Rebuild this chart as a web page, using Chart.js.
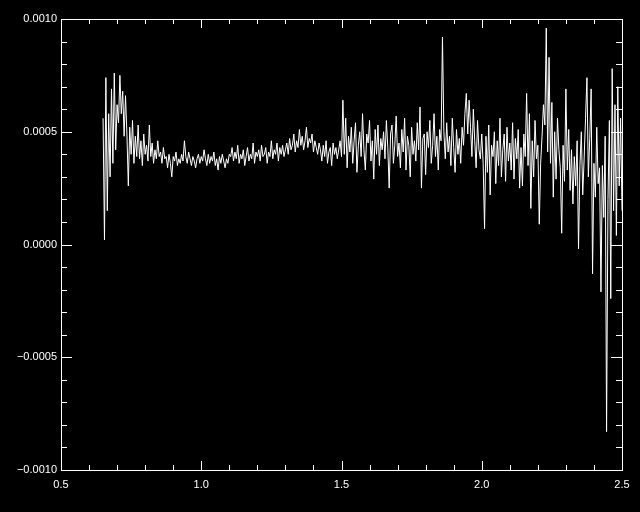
<!DOCTYPE html>
<html>
<head>
<meta charset="utf-8">
<script src="https://cdn.jsdelivr.net/npm/chart.js@4.4.0/dist/chart.umd.min.js"></script>
<style>
    html, body { margin: 0; padding: 0; background: #000; }
    canvas { display: block; }
</style>
</head>
<body>
<canvas id="plot" width="640" height="512"></canvas>
<script>
// Sampling grid of the spectrum (microns)
const waveStart = 0.65;
const waveStep = 0.005;

// Values, in units of 1e-4, one per grid step
const flux = [
    // 0.650 - 0.730
    5.6, 0.2, 7.4, 1.5, 5.8, 3.0, 6.9, 3.6, 7.6, 4.2, 6.2, 5.4, 7.5, 5.8, 6.8, 4.8, 6.6,
    // 0.735 - 0.800
    4.9, 2.6, 5.2, 4.0, 5.5, 3.6, 4.8, 3.9, 5.3, 3.8, 4.6, 3.5, 4.9, 4.0,
    // 0.805 - 0.850
    4.4, 3.7, 5.3, 3.9, 4.5, 3.6, 4.2, 3.8, 4.6, 3.9,
    // 0.855 - 1.100
    4.1, 3.6, 4.3, 3.8, 3.9, 3.4, 4.0, 3.6, 3.0, 3.9,
    3.7, 4.1, 3.5, 3.8, 3.6, 4.0, 3.7, 4.6, 3.9, 3.6,
    4.1, 3.8, 3.5, 3.9, 3.7, 3.4, 3.8, 4.0, 3.6, 3.9,
    3.7, 4.2, 3.8, 3.5, 4.0, 3.6, 3.9, 3.7, 4.1, 3.5,
    3.8, 3.3, 3.9, 3.6, 4.0, 3.7, 3.4, 3.8, 3.6, 4.0,
    // 1.105 - 1.300
    3.9, 4.3, 3.7, 4.1, 3.8, 4.4, 3.6, 4.0, 3.8, 4.2,
    3.5, 3.9, 4.3, 3.7, 4.0, 3.8, 4.5, 3.6, 4.1, 3.9,
    4.2, 3.7, 4.4, 3.9, 4.0, 4.3, 3.6, 4.1, 3.9, 4.6,
    3.8, 4.2, 4.0, 4.5, 3.7, 4.3, 4.0, 4.4, 3.9, 4.2,
    // 1.305 - 1.420
    4.5, 4.0, 4.7, 4.2, 4.4, 4.9, 4.1, 4.6, 4.3, 5.1,
    4.4, 4.8, 4.2, 4.6, 5.2, 4.3, 4.7, 4.5, 4.9, 4.1,
    4.6, 4.3, 4.0, 4.5,
    // 1.425 - 1.500
    4.2, 3.7, 4.4, 3.9, 4.6, 3.6, 4.1, 4.3, 3.5, 4.5, 4.0, 4.3, 3.8, 4.2, 4.6, 3.9,
    // 1.505 - 1.850
    6.4, 4.0, 5.6, 3.4, 4.8, 4.1, 5.2, 3.6, 4.6, 5.4,
    3.2, 4.4, 5.0, 3.9, 5.8, 4.2, 3.3, 4.9, 4.5, 5.5,
    3.7, 4.6, 2.9, 5.1, 4.0, 5.3, 3.5, 4.7, 4.2, 5.0,
    3.8, 5.5, 4.3, 2.5, 4.9, 5.3, 3.6, 4.4, 5.7, 3.9,
    4.5, 3.4, 5.1, 4.1, 5.6, 3.3, 4.8, 4.4, 3.0, 5.2,
    4.0, 4.6, 3.7, 5.4, 4.2, 6.1, 2.5, 4.7, 4.9, 3.1,
    5.0, 4.3, 5.5, 3.6, 4.4, 5.8, 3.9, 4.8, 3.3, 5.1,
    // 1.855 - 2.000
    4.6, 9.2, 5.0, 3.8, 5.4, 4.1, 4.8, 3.5, 5.6, 4.3,
    3.2, 5.1, 4.0, 4.7, 3.6, 5.2, 4.4, 5.8, 6.7, 4.9,
    6.4, 5.2, 3.9, 6.0, 4.6, 3.4, 5.5, 4.2, 3.8, 4.9,
    // 2.005 - 2.210
    3.6, 0.7, 4.8, 3.2, 5.3, 2.2, 4.4, 3.9, 5.0, 2.7,
    4.6, 3.5, 5.6, 3.0, 4.2, 4.9, 2.8, 5.2, 3.7, 4.5,
    3.3, 5.4, 2.9, 4.7, 3.8, 5.1, 2.5, 4.3, 2.6, 4.9,
    3.9, 6.7, 3.5, 5.8, 1.6, 4.6, 3.0, 5.5, 3.8, 4.4,
    0.9, 3.6,
    // 2.215 - 2.280
    4.8, 6.2, 5.3, 9.6, 4.1, 8.3, 3.6, 6.3, 2.1, 5.0, 2.9, 5.6, 4.2, 3.4,
    // 2.285 - 2.420
    0.5, 4.4, 2.8, 6.9, 3.3, 5.1, 2.4, 4.2, 1.8, 3.9, 2.6, 4.6, -0.2, 3.5, 5.0, 2.2,
    3.8, 5.6, 7.4, 3.0, 4.7, 6.9, -1.3, 3.6, 2.1, 5.2, 2.7, 3.4,
    // 2.425 - 2.500
    -2.1, 3.5, 1.2, 4.8, -8.3, 2.0, 5.5, -2.4, 7.8, 1.5, 6.2, 0.4, 7.0, 2.6, 5.6, 1.5
];

// Axis ranges and tick labels
const xRange = [0.5, 2.5];
const yRange = [-0.0010, 0.0010];
const xMajor = [0.5, 1.0, 1.5, 2.0, 2.5];
const yMajor = [-0.0010, -0.0005, 0.0, 0.0005, 0.0010];
const xMinorStep = 0.1;
const yMinorStep = 0.0001;

const points = flux.map((v, i) => ({
    x: +(waveStart + i * waveStep).toFixed(3),
    y: v * 1e-4
}));

// Black page + IDL style box with inward ticks on all four sides
const idlFrame = {
    id: 'idlFrame',
    beforeDraw(chart) {
        const ctx = chart.ctx;
        ctx.save();
        ctx.fillStyle = '#000';
        ctx.fillRect(0, 0, chart.width, chart.height);
        ctx.restore();
    },
    afterDraw(chart) {
        const { ctx, chartArea: a, scales } = chart;
        const xs = scales.x, ys = scales.y;
        ctx.save();
        ctx.strokeStyle = '#fff';
        ctx.lineWidth = 1;
        ctx.strokeRect(Math.round(a.left) + 0.5, Math.round(a.top) + 0.5,
            Math.round(a.right - a.left), Math.round(a.bottom - a.top));

        ctx.beginPath();
        // x ticks
        const nx = Math.round((xRange[1] - xRange[0]) / xMinorStep);
        for (let i = 0; i <= nx; i++) {
            const v = xRange[0] + i * xMinorStep;
            const major = xMajor.some(m => Math.abs(m - v) < 1e-9);
            const len = major ? 9 : 5;
            const px = Math.round(xs.getPixelForValue(v)) + 0.5;
            ctx.moveTo(px, a.bottom);
            ctx.lineTo(px, a.bottom - len);
            ctx.moveTo(px, a.top);
            ctx.lineTo(px, a.top + len);
        }
        // y ticks
        const ny = Math.round((yRange[1] - yRange[0]) / yMinorStep);
        for (let i = 0; i <= ny; i++) {
            const v = yRange[0] + i * yMinorStep;
            const major = yMajor.some(m => Math.abs(m - v) < 1e-9);
            const len = major ? 11 : 6;
            const py = Math.round(ys.getPixelForValue(v)) + 0.5;
            ctx.moveTo(a.left, py);
            ctx.lineTo(a.left + len, py);
            ctx.moveTo(a.right, py);
            ctx.lineTo(a.right - len, py);
        }
        ctx.stroke();
        ctx.restore();
    }
};

Chart.defaults.color = '#fff';
Chart.defaults.font.family = '"Liberation Sans", Arial, sans-serif';
Chart.defaults.font.size = 11;

new Chart(document.getElementById('plot'), {
    type: 'line',
    data: {
        datasets: [{
            data: points,
            borderColor: '#fff',
            borderWidth: 1,
            pointRadius: 0,
            tension: 0,
            fill: false
        }]
    },
    options: {
        responsive: false,
        animation: false,
        devicePixelRatio: 1,
        layout: { padding: { top: 19, right: 18, left: 0, bottom: 0 } },
        plugins: { legend: { display: false }, tooltip: { enabled: false } },
        scales: {
            x: {
                type: 'linear',
                min: xRange[0],
                max: xRange[1],
                grid: { display: false, drawTicks: false },
                border: { display: false },
                afterFit: s => { s.height = 42; },
                afterBuildTicks: s => { s.ticks = xMajor.map(v => ({ value: v })); },
                ticks: {
                    padding: 8,
                    maxRotation: 0,
                    color: '#fff',
                    callback: v => v.toFixed(1)
                }
            },
            y: {
                type: 'linear',
                min: yRange[0],
                max: yRange[1],
                grid: { display: false, drawTicks: false },
                border: { display: false },
                afterFit: s => { s.width = 61; },
                afterBuildTicks: s => { s.ticks = yMajor.map(v => ({ value: v })); },
                ticks: {
                    padding: 4,
                    color: '#fff',
                    callback: v => {
                        const t = Math.abs(v) < 1e-12 ? '0.0000' : Math.abs(v).toFixed(4);
                        return v < -1e-12 ? '\u2212' + t : t;
                    }
                }
            }
        }
    },
    plugins: [idlFrame]
});
</script>
</body>
</html>
